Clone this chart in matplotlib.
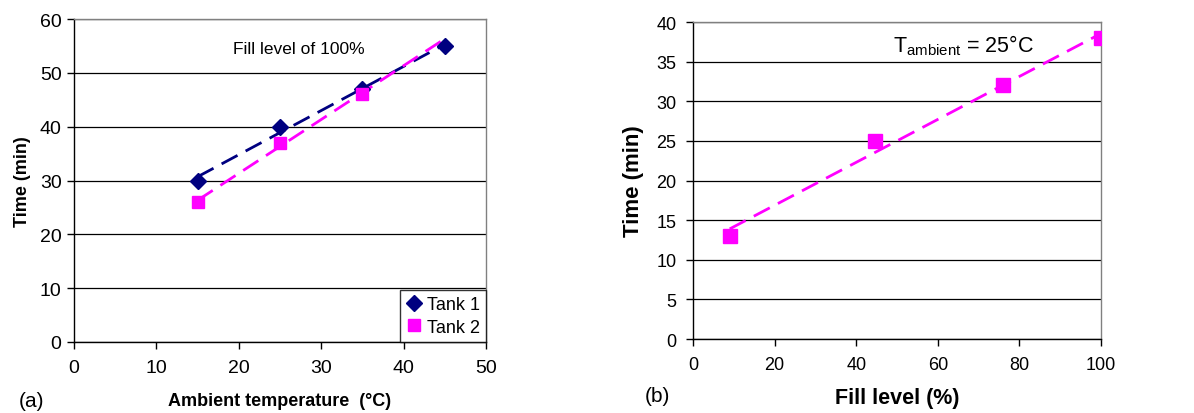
import numpy as np
import matplotlib.pyplot as plt

plt.rcParams['font.family'] = ['Liberation Sans', 'DejaVu Sans']

# (a) time vs ambient temperature, fill level 100 %
temp1 = [15, 25, 35, 45]
tank1 = [30, 40, 47, 55]
temp2 = [15, 25, 35]
tank2 = [26, 37, 46]

# (b) time vs fill level, T ambient = 25 C
fill = [9, 44.5, 76, 100]
time_fill = [13, 25, 32, 38]

navy = '#000080'
magenta = '#FF00FF'
dash = (6.5, 3.3)

fig = plt.figure(figsize=(11.94, 4.14), dpi=100)
axa = fig.add_axes([0.062, 0.1715, 0.345, 0.780])
axb = fig.add_axes([0.5804, 0.1787, 0.3417, 0.7657])


def style(ax):
    ax.set_axisbelow(True)
    ax.yaxis.grid(True, color='black', lw=0.9)
    ax.spines['left'].set_color('black')
    ax.spines['bottom'].set_color('black')
    ax.spines['top'].set_color('#808080')
    ax.spines['right'].set_color('#808080')
    for s in ax.spines.values():
        s.set_linewidth(1.0)
    ax.tick_params(direction='out', length=5, width=1, color='black')


# panel (a)
style(axa)
# linear trendlines (tank 2 forecast forward to 45)
c1 = np.polyfit(temp1, tank1, 1)
xs1 = np.array([temp1[0], temp1[-1]])
axa.plot(xs1, np.polyval(c1, xs1), color=navy, lw=2, dashes=dash)
c2 = np.polyfit(temp2, tank2, 1)
xs2 = np.array([temp2[0], 45])
axa.plot(xs2, np.polyval(c2, xs2), color=magenta, lw=2, dashes=dash)
axa.plot(temp1, tank1, ls='none', marker='D', ms=8, color=navy, label='Tank 1', zorder=3)
axa.plot(temp2, tank2, ls='none', marker='s', ms=9, color=magenta, label='Tank 2', zorder=3)

axa.set_xlim(0, 50)
axa.set_ylim(0, 60)
axa.set_xticks(range(0, 51, 10))
axa.set_yticks(range(0, 61, 10))
axa.tick_params(labelsize=14)
axa.tick_params(axis='x', pad=7)
axa.tick_params(axis='y', pad=4)
axa.set_xlabel('Ambient temperature  (°C)', fontsize=13, fontweight='bold', labelpad=12)
axa.set_ylabel('Time (min)', fontsize=13, fontweight='bold', labelpad=6)
axa.text(27.3, 54.6, 'Fill level of 100%', fontsize=12.5, ha='center', va='center')
leg = axa.legend(loc='lower right', fontsize=13, frameon=True, fancybox=False,
                 borderaxespad=0, handletextpad=0.3, handlelength=0.8,
                 borderpad=0.35, labelspacing=0.3)
leg.get_frame().set_edgecolor('black')
leg.get_frame().set_linewidth(1)
fig.text(32 / 1194, 1 - 402 / 414, '(a)', fontsize=15, ha='center', va='center')

# panel (b)
style(axb)
cb = np.polyfit(fill, time_fill, 1)
xsb = np.array([fill[0], fill[-1]])
axb.plot(xsb, np.polyval(cb, xsb), color=magenta, lw=2, dashes=dash)
axb.plot(fill, time_fill, ls='none', marker='s', ms=9.5, color=magenta, zorder=3)

axb.set_xlim(0, 100)
axb.set_ylim(0, 40)
axb.set_xticks(range(0, 101, 20))
axb.set_yticks(range(0, 41, 5))
axb.tick_params(labelsize=13)
axb.tick_params(axis='x', pad=7)
axb.tick_params(axis='y', pad=7)
axb.set_xlabel('Fill level (%)', fontsize=15.5, fontweight='bold', labelpad=10)
axb.set_ylabel('Time (min)', fontsize=16, fontweight='bold', labelpad=9)
axb.text(49, 37.2, r'T$_{\mathregular{ambient}}$ = 25°C', fontsize=15.5, ha='left', va='center')
fig.text(657 / 1194, 1 - 397 / 414, '(b)', fontsize=15, ha='center', va='center')

fig.savefig('out.png', dpi=100)
